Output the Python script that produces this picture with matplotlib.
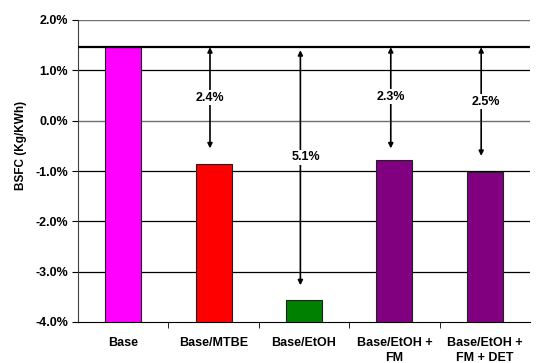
import matplotlib.pyplot as plt
from matplotlib.ticker import FuncFormatter

plt.rcParams["font.family"] = ["Liberation Sans", "DejaVu Sans"]
plt.rcParams["font.weight"] = "bold"

categories = ["Base", "Base/MTBE", "Base/EtOH", "Base/EtOH +\nFM", "Base/EtOH +\nFM + DET"]
bsfc = [1.47, -0.86, -3.57, -0.79, -1.02]
bar_colors = ["#ff00ff", "#ff0000", "#008000", "#800080", "#800080"]
base_level = 1.46

# arrows: category index, bottom end, label, label y
arrow_idx = [1, 2, 3, 4]
arrow_bottom = [-0.55, -3.27, -0.55, -0.70]
arrow_top = [1.46, 1.40, 1.46, 1.46]
arrow_labels = ["2.4%", "5.1%", "2.3%", "2.5%"]
label_y = [0.46, -0.73, 0.48, 0.38]
label_dx = [0.0, 0.06, 0.0, 0.05]

fig = plt.figure(figsize=(5.43, 3.63), dpi=100)
ax = fig.add_axes([78 / 543, 41 / 363, 452 / 543, 302 / 363])

x = list(range(len(categories)))
ax.bar(x, [v + 4 for v in bsfc], bottom=-4, width=0.4, color=bar_colors,
       edgecolor="#202020", linewidth=0.8, zorder=3)

ax.set_ylim(-4, 2)
ax.set_xlim(-0.5, len(categories) - 0.5)
ax.set_yticks([2, 1, 0, -1, -2, -3, -4])
ax.yaxis.set_major_formatter(FuncFormatter(lambda v, _: f"{v:.1f}%"))
for yv in [1, -1, -2, -3]:
    ax.axhline(yv, color="black", linewidth=0.9, zorder=1)
for yv in [2, 0]:
    ax.axhline(yv, color="#707070", linewidth=1.0, zorder=1)
ax.axhline(base_level, color="black", linewidth=1.6, zorder=4)

for i, yb, yt, lab, ly, dx in zip(arrow_idx, arrow_bottom, arrow_top,
                                  arrow_labels, label_y, label_dx):
    xa = i - 0.04
    ax.annotate("", xy=(xa, yb), xytext=(xa, yt),
                arrowprops=dict(arrowstyle="<|-|>", color="black", lw=1.2,
                                mutation_scale=7, shrinkA=0, shrinkB=0),
                zorder=5)
    ax.text(xa + dx, ly, lab, ha="center", va="center", fontsize=9,
            fontweight="bold", zorder=6,
            bbox=dict(facecolor="white", edgecolor="none", pad=1.0))

ax.set_xticks(x)
ax.set_xticklabels(categories, fontsize=9, fontweight="bold", linespacing=1.3)
ax.set_xticks([v + 0.5 for v in x[:-1]], minor=True)
ax.tick_params(axis="x", which="major", length=0, pad=11)
ax.tick_params(axis="x", which="minor", length=4, direction="out")
ax.tick_params(axis="y", length=4, direction="out", labelsize=9, pad=3)
for lbl in ax.get_yticklabels():
    lbl.set_fontweight("bold")
ax.set_ylabel("BSFC (Kg/KWh)", fontsize=8.5, fontweight="bold")
ax.yaxis.set_label_coords(-0.112, 0.586)

for side in ("top", "right"):
    ax.spines[side].set_visible(False)
ax.spines["left"].set_color("#404040")
ax.spines["bottom"].set_color("black")

fig.savefig("out.png", dpi=100, facecolor="white")
